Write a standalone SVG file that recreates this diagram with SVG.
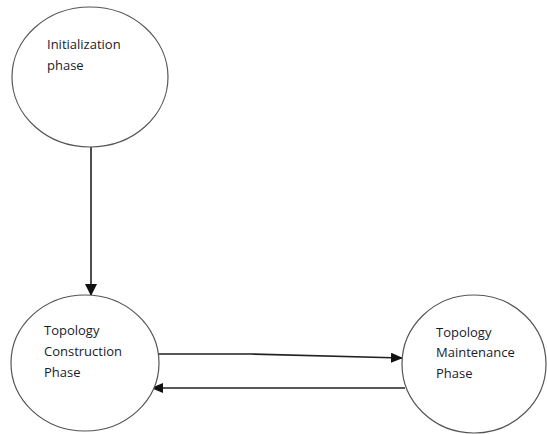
<svg xmlns="http://www.w3.org/2000/svg" width="547" height="434" viewBox="0 0 547 434">
<style>
.node{fill:#fff;stroke:#555;stroke-width:1.2}
.lbl{font-family:"Open Sans","Liberation Sans",sans-serif;font-size:13px;fill:#1a1a2e}
.edge{stroke:#222;stroke-width:1.6;fill:none}
</style>
<defs>
<marker id="ah" markerWidth="12" markerHeight="10" refX="11" refY="5" orient="auto" markerUnits="userSpaceOnUse">
<path d="M0,0 L12,5 L0,10 Z" fill="#111"/>
</marker>
<marker id="ahv" markerWidth="12" markerHeight="12" refX="11" refY="6" orient="auto" markerUnits="userSpaceOnUse">
<path d="M0,0 L12,6 L0,12 Z" fill="#111"/>
</marker>
</defs>
<rect width="547" height="434" fill="#fff"/>
<g id="connectors">
<line class="edge" x1="91" y1="147" x2="91" y2="295" marker-end="url(#ahv)"/>
<polyline class="edge" points="158,354 250,354 402,358" marker-end="url(#ah)"/>
<line class="edge" x1="405" y1="388" x2="152" y2="388" marker-end="url(#ah)"/>
</g>
<g id="init">
<ellipse class="node" cx="90" cy="77" rx="78" ry="70"/>
<text class="lbl" x="47" y="49">Initialization</text>
<text class="lbl" x="47" y="70">phase</text>
</g>
<g id="construction">
<ellipse class="node" cx="85" cy="363" rx="74" ry="68"/>
<text class="lbl" x="44" y="335">Topology</text>
<text class="lbl" x="44" y="356">Construction</text>
<text class="lbl" x="44" y="377">Phase</text>
</g>
<g id="maintenance">
<ellipse class="node" cx="474" cy="364" rx="72" ry="69"/>
<text class="lbl" x="436" y="337">Topology</text>
<text class="lbl" x="436" y="357">Maintenance</text>
<text class="lbl" x="436" y="378">Phase</text>
</g>
</svg>
